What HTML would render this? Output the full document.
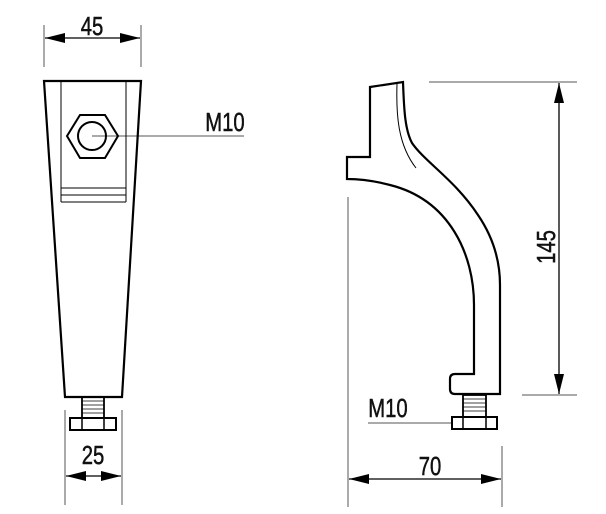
<!DOCTYPE html>
<html><head><meta charset="utf-8"><style>
html,body{margin:0;padding:0;background:#fff;width:606px;height:514px;overflow:hidden}
svg{display:block}
text{font-family:"Liberation Sans",sans-serif;fill:#111;stroke:#111;stroke-width:0.5}
</style></head><body>
<svg width="606" height="514" viewBox="0 0 606 514" xmlns="http://www.w3.org/2000/svg">
<defs>
<marker id="a" viewBox="0 0 20 10" refX="20" refY="5" markerWidth="20" markerHeight="10" markerUnits="userSpaceOnUse" orient="auto-start-reverse"><path d="M0,0 L20,5 L0,10 z" fill="#000"/></marker>
</defs>
<g stroke="#555" stroke-width="1" fill="none">
<line x1="44" y1="25" x2="44" y2="67"/>
<line x1="141" y1="25" x2="141" y2="67"/>
<line x1="65" y1="410" x2="65" y2="505"/>
<line x1="122" y1="410" x2="122" y2="505"/>
<line x1="92" y1="136" x2="244" y2="136"/>
<line x1="348" y1="197" x2="348" y2="507"/>
<line x1="502" y1="446" x2="502" y2="507"/>
<line x1="429" y1="82" x2="577" y2="82"/>
<line x1="522" y1="395" x2="577" y2="395"/>
<line x1="368" y1="423" x2="452" y2="423"/>
</g>
<g stroke="#000" stroke-width="1.3" fill="none">
<line x1="45" y1="38" x2="140" y2="38" marker-start="url(#a)" marker-end="url(#a)"/>
<line x1="66" y1="476" x2="121" y2="476" marker-start="url(#a)" marker-end="url(#a)"/>
<line x1="349" y1="479" x2="501" y2="479" marker-start="url(#a)" marker-end="url(#a)"/>
<line x1="559" y1="83" x2="559" y2="394" marker-start="url(#a)" marker-end="url(#a)"/>
</g>
<g stroke="#000" fill="none">
<path d="M44,81 L141,81 L122,397 L65,397 Z" stroke-width="2.2"/>
<line x1="61" y1="82" x2="61" y2="202" stroke-width="1"/>
<line x1="126" y1="82" x2="126" y2="202" stroke-width="1"/>
<line x1="61" y1="188" x2="126" y2="188" stroke-width="1"/>
<line x1="61" y1="195" x2="126" y2="195" stroke-width="1"/>
<line x1="61" y1="202" x2="126" y2="202" stroke-width="1"/>
<path d="M67,136 L80,115 L105,115 L118,136 L105,158 L80,158 Z" stroke-width="2"/>
<circle cx="92" cy="136" r="14" stroke-width="2"/>
<rect x="82" y="397" width="22" height="21" stroke-width="1.8"/>
<g stroke-width="0.8"><line x1="82" y1="401" x2="104" y2="401"/><line x1="82" y1="405" x2="104" y2="405"/><line x1="82" y1="409" x2="104" y2="409"/><line x1="82" y1="413" x2="104" y2="413"/></g>
<rect x="70" y="418" width="46" height="12" stroke-width="2"/>
<line x1="82" y1="418" x2="82" y2="430" stroke-width="1.5"/>
<line x1="104" y1="418" x2="104" y2="430" stroke-width="1.5"/>
</g>
<g stroke="#000" fill="none">
<path d="M370,87 L403,82 C404,110 405,130 412,143 C425,162 455,180 478,215 C495,240 500,265 500,285 L500,394 L455,394 Q450,394 450,389 L450,379 Q450,374 455,374 L474,374 L474,305 C474,255 450,200 390,185 C375,181 360,179 347,179 L347,157 L370,157 Z" stroke-width="2.2"/>
<path d="M397,84 C396,115 398,145 416,168" stroke-width="1"/>
<rect x="463" y="395" width="23" height="22" stroke-width="1.8"/>
<g stroke-width="0.8"><line x1="463" y1="399" x2="486" y2="399"/><line x1="463" y1="403" x2="486" y2="403"/><line x1="463" y1="407" x2="486" y2="407"/><line x1="463" y1="411" x2="486" y2="411"/></g>
<rect x="452" y="417" width="45" height="12" stroke-width="2"/>
<line x1="463" y1="417" x2="463" y2="429" stroke-width="1.5"/>
<line x1="486" y1="417" x2="486" y2="429" stroke-width="1.5"/>
</g>
<g font-size="26">
<text x="92" y="35" text-anchor="middle" transform="translate(92 0) scale(0.78 1) translate(-92 0)">45</text>
<text x="225" y="131" text-anchor="middle" transform="translate(225 0) scale(0.78 1) translate(-225 0)">M10</text>
<text x="93" y="464" text-anchor="middle" transform="translate(93 0) scale(0.78 1) translate(-93 0)">25</text>
<text x="388" y="417" text-anchor="middle" transform="translate(388 0) scale(0.78 1) translate(-388 0)">M10</text>
<text x="430" y="475" text-anchor="middle" transform="translate(430 0) scale(0.78 1) translate(-430 0)">70</text>
<text x="0" y="0" text-anchor="middle" transform="translate(555 247) rotate(-90) scale(0.78 1)">145</text>
</g>
</svg>
</body></html>
